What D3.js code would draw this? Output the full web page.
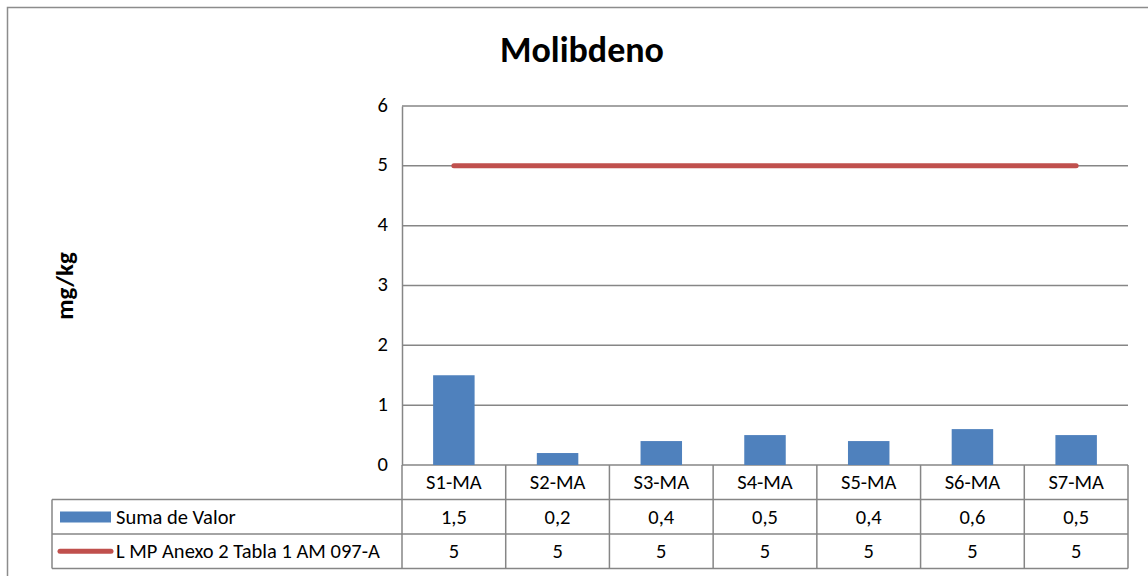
<!DOCTYPE html>
<html lang="en">
<head>
<meta charset="UTF-8">
<title>Molibdeno</title>
<script src="https://cdn.jsdelivr.net/npm/d3@7"></script>
<style>
    body { margin: 0; background: #fff; }
    text { font-family: Calibri, Carlito, Lato, "Open Sans", sans-serif; fill: #000; }
</style>
</head>
<body>
<svg id="chart" width="1148" height="576"></svg>
<script>
    var categories = ["S1-MA", "S2-MA", "S3-MA", "S4-MA", "S5-MA", "S6-MA", "S7-MA"];
    var sumaValor = [1.5, 0.2, 0.4, 0.5, 0.4, 0.6, 0.5];
    var limite = [5, 5, 5, 5, 5, 5, 5];
    var yTicks = [0, 1, 2, 3, 4, 5, 6];
    var seriesNames = ["Suma de Valor", "L MP Anexo 2 Tabla 1 AM 097-A"];

    var blue = "#4F81BD", red = "#C0504D", grid = "#868686";
    var fs = "20.5px";
    var svg = d3.select("#chart");

    // outer frame (continues past the window on right and bottom)
    svg.append("rect").attr("x", 7.5).attr("y", 7.5).attr("width", 1160).attr("height", 600)
        .attr("fill", "none").attr("stroke", "#8c8c8c").attr("stroke-width", 1.5);

    var plotLeft = 402, plotRight = 1128, plotTop = 106, plotBottom = 465;
    var x = d3.scaleBand().domain(categories).range([plotLeft, plotRight]);
    var y = d3.scaleLinear().domain([0, 6]).range([plotBottom, plotTop]);

    svg.append("text").attr("x", 582).attr("y", 62).attr("text-anchor", "middle")
        .style("font-size", "36px").style("font-weight", "bold").text("Molibdeno");

    svg.append("text").attr("transform", "translate(73,286) rotate(-90)")
        .attr("text-anchor", "middle").style("font-size", "25px").style("font-weight", "bold")
        .text("mg/kg");

    // gridlines
    svg.selectAll(".grid").data(yTicks).enter().append("line")
        .attr("x1", plotLeft).attr("x2", plotRight)
        .attr("y1", function (d) { return y(d); }).attr("y2", function (d) { return y(d); })
        .attr("stroke", grid).attr("stroke-width", 1.5);

    var yAxis = svg.append("g").attr("transform", "translate(" + plotLeft + ",0)")
        .call(d3.axisLeft(y).tickValues(yTicks).tickSize(0).tickPadding(14).tickFormat(d3.format("d")));
    yAxis.select(".domain").attr("stroke", grid).attr("stroke-width", 1.5);
    yAxis.selectAll("text").style("font-size", fs).attr("dy", "0.25em");

    // bars
    var barW = x.bandwidth() * 0.4;
    svg.selectAll(".bar").data(sumaValor).enter().append("rect")
        .attr("x", function (d, i) { return x(categories[i]) + x.bandwidth() / 2 - barW / 2; })
        .attr("y", function (d) { return y(d); })
        .attr("width", barW)
        .attr("height", function (d) { return plotBottom - y(d); })
        .attr("fill", blue);

    // limit line
    var line = d3.line()
        .x(function (d, i) { return x(categories[i]) + x.bandwidth() / 2; })
        .y(function (d) { return y(d); });
    svg.append("path").datum(limite).attr("d", line)
        .attr("fill", "none").attr("stroke", red).attr("stroke-width", 5).attr("stroke-linecap", "round");

    // data table
    var rowH = 34.5;
    var tableLeft = 52;
    var rows = [plotBottom, plotBottom + rowH, plotBottom + 2 * rowH, plotBottom + 3 * rowH];
    var tbl = svg.append("g").attr("stroke", grid).attr("stroke-width", 1.5);
    tbl.append("line").attr("x1", tableLeft).attr("x2", plotRight).attr("y1", rows[1]).attr("y2", rows[1]);
    tbl.append("line").attr("x1", tableLeft).attr("x2", plotRight).attr("y1", rows[2]).attr("y2", rows[2]);
    tbl.append("line").attr("x1", tableLeft).attr("x2", plotRight).attr("y1", rows[3]).attr("y2", rows[3]);
    tbl.append("line").attr("x1", tableLeft).attr("x2", tableLeft).attr("y1", rows[1]).attr("y2", rows[3]);
    var bounds = categories.map(function (c) { return x(c); }).concat([plotRight]);
    tbl.selectAll(".vl").data(bounds).enter().append("line")
        .attr("x1", function (d) { return d; }).attr("x2", function (d) { return d; })
        .attr("y1", rows[0]).attr("y2", rows[3]);

    var fmt = function (v) { return String(v).replace(".", ","); };
    [categories, sumaValor.map(fmt), limite.map(fmt)].forEach(function (vals, r) {
        svg.selectAll(".cell" + r).data(vals).enter().append("text")
            .attr("x", function (d, i) { return x(categories[i]) + x.bandwidth() / 2; })
            .attr("y", rows[r] + rowH / 2 + 7)
            .attr("text-anchor", "middle").style("font-size", fs)
            .text(function (d) { return d; });
    });

    // legend keys in table
    svg.append("rect").attr("x", 60).attr("y", rows[1] + 12).attr("width", 51).attr("height", 11).attr("fill", blue);
    svg.append("line").attr("x1", 60).attr("x2", 111).attr("y1", rows[2] + rowH / 2).attr("y2", rows[2] + rowH / 2)
        .attr("stroke", red).attr("stroke-width", 5).attr("stroke-linecap", "round");
    seriesNames.forEach(function (n, i) {
        svg.append("text").attr("x", 116).attr("y", rows[i + 1] + rowH / 2 + 7)
            .style("font-size", fs).text(n);
    });
</script>
</body>
</html>
